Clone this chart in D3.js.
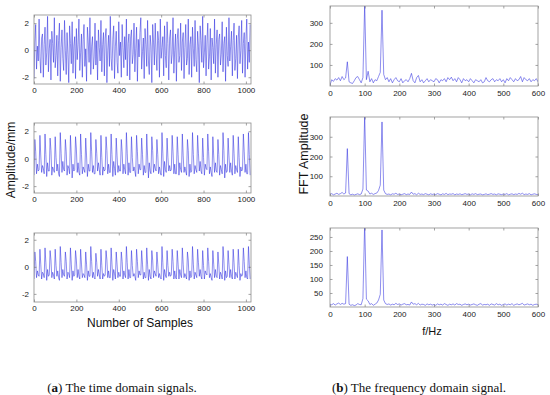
<!DOCTYPE html>
<html>
<head>
<meta charset="utf-8">
<script src="https://cdn.jsdelivr.net/npm/d3@7"></script>
<style>
  body { margin: 0; background: #fff; }
</style>
</head>
<body>
<script>
// time signals: one value every 4 samples
const sampleStep = 4;
const timeTicks = [0, 200, 400, 600, 800, 1000];
const ampTicks = [-2, 0, 2];

const sig1 = [
  -2.1, 0.6, 1.9, -1.4, 0.3, -0.8, 2.3, -0.5, -1.7, 0.9, 1.2, -2.0,
  0.4, 1.7, -1.1, -0.2, 2.5, -1.6, 0.1, 0.8, -2.2, 1.4, 0.5, -0.9,
  2.4, -1.3, -0.4, 1.1, -1.9, 0.7, 2.0, -2.3, 0.2, 1.5, -0.6, -1.5,
  2.2, 0.0, -1.8, 1.3, -0.3, -2.4, 1.8, 0.5, -1.0, 2.1, -1.7, 0.3,
  1.0, -2.1, 1.6, -0.7, 0.4, 2.3, -1.5, -0.2, 1.2, -2.0, 0.8, 1.9,
  -1.2, 0.1, -2.3, 1.7, 0.6, -0.9, 2.4, -1.8, 0.3, 1.0, -1.4, -0.5,
  2.0, -1.1, 0.7, -2.2, 1.5, 0.2, -0.8, 2.2, -1.6, 0.4, 1.3, -1.9,
  0.9, 1.6, -2.4, 0.0, 1.1, -1.2, 2.5, -0.6, -1.5, 0.8, 1.8, -2.1,
  0.3, 1.4, -0.9, -1.7, 2.1, -0.4, 0.6, -2.0, 1.9, 0.2, -1.3, 1.0,
  -0.7, 2.3, -1.9, 0.5, 1.2, -2.2, 0.9, 1.5, -1.0, -0.3, 2.0, -1.6,
  0.1, 1.7, -2.3, 0.8, -0.5, 1.3, 2.4, -1.4, -0.1, 0.9, -2.1, 1.6,
  0.4, -1.2, 2.2, -0.8, -1.8, 1.1, 0.3, -2.4, 1.9, 0.6, -1.1, 2.0,
  -0.2, -1.5, 1.4, 0.7, -2.0, 2.3, -0.6, 0.2, 1.0, -1.9, 1.8, -0.4,
  -1.3, 2.1, 0.5, -2.2, 0.9, 1.5, -1.0, -0.3, 2.4, -1.7, 0.0, 1.2,
  -2.3, 0.8, 1.6, -0.9, -0.4, 2.0, -1.5, 0.6, 1.3, -2.1, 0.2, 1.9,
  -1.1, -0.6, 2.3, -1.8, 0.4, 1.0, -2.0, 1.7, 0.1, -1.2, 2.2, -0.7,
  -1.6, 1.4, 0.3, -2.4, 1.8, 0.7, -0.9, 2.5, -1.3, -0.2, 1.1, -1.9,
  0.6, 2.0, -1.4, -0.5, 1.6, -2.2, 0.9, 0.2, -1.0, 2.3, -1.7, 0.4,
  1.5, -2.0, 0.8, 1.2, -1.1, -0.3, 2.1, -1.6, 0.5, 1.0, -2.3, 1.7,
  -0.4, -1.2, 2.4, -0.8, 0.3, 1.4, -1.9, 0.7, 2.0, -1.5, -0.6, 1.1,
  -2.1, 0.9, 1.8, -1.0, 0.0, 2.2, -1.7, 0.5, 1.3, -2.0, 0.8, 2.3,
  -1.4, 0.6, -0.9, 1.9
];

const sig2 = [
  -1.2, 1.4, 0.5, -1.1, -0.4, -0.9, -0.8, 1.7, 0.2, -1.0, -0.5, -0.7,
  -1.1, 1.8, 0.3, -1.3, -0.3, -0.9, -0.9, 1.5, 0.6, -1.2, -0.6, -0.8,
  -1.0, 1.6, 0.1, -0.9, -0.4, -1.1, -1.3, 1.9, 0.4, -1.0, -0.2, -0.8,
  -0.9, 1.4, 0.5, -1.2, -0.5, -0.7, -1.1, 1.7, 0.2, -1.4, -0.4, -0.9,
  -0.8, 1.6, 0.7, -1.0, -0.3, -1.0, -1.2, 1.8, 0.3, -1.1, -0.6, -0.8,
  -1.0, 1.5, 0.2, -1.3, -0.4, -0.9, -0.9, 1.9, 0.5, -1.0, -0.5, -1.1,
  -1.1, 1.4, 0.4, -0.9, -0.3, -0.8, -1.2, 1.7, 0.1, -1.2, -0.6, -0.9,
  -0.8, 1.6, 0.6, -1.1, -0.4, -1.0, -1.0, 1.8, 0.3, -1.3, -0.2, -0.7,
  -1.2, 1.5, 0.2, -1.0, -0.5, -0.9, -0.9, 1.4, 0.5, -1.1, -0.4, -0.8,
  -1.1, 1.9, 0.4, -1.2, -0.3, -1.0, -1.0, 1.6, 0.1, -0.9, -0.6, -0.9,
  -1.3, 1.7, 0.5, -1.1, -0.4, -0.8, -0.8, 1.5, 0.3, -1.2, -0.5, -1.0,
  -1.0, 1.8, 0.2, -1.4, -0.3, -0.9, -1.1, 1.6, 0.6, -1.0, -0.4, -0.7,
  -0.9, 1.4, 0.3, -1.1, -0.6, -1.0, -1.2, 1.9, 0.4, -1.3, -0.2, -0.8,
  -1.0, 1.5, 0.1, -0.9, -0.5, -0.9, -0.8, 1.7, 0.5, -1.1, -0.4, -1.1,
  -1.1, 1.6, 0.3, -1.2, -0.3, -0.8, -1.0, 1.8, 0.2, -1.0, -0.6, -0.9,
  -1.2, 1.4, 0.6, -1.3, -0.4, -1.0, -0.9, 1.9, 0.3, -1.1, -0.5, -0.8,
  -1.0, 1.7, 0.4, -0.9, -0.2, -0.9, -1.1, 1.5, 0.1, -1.2, -0.4, -0.7,
  -0.8, 1.8, 0.5, -1.1, -0.6, -1.0, -1.3, 1.6, 0.2, -1.0, -0.3, -0.9,
  -1.0, 1.4, 0.3, -1.2, -0.5, -0.8, -1.1, 1.9, 0.6, -1.4, -0.4, -1.0,
  -0.9, 1.5, 0.2, -1.0, -0.3, -0.9, -1.2, 1.7, 0.4, -1.1, -0.5, -0.8,
  -1.0, 1.6, 0.1, -1.3, -0.6, -0.9, -0.8, 1.8, 0.5, -1.0, -0.4, -1.1,
  -1.1, 1.9, 0.3, -1.2
];

const sig3 = [
  -0.9, 1.1, 0.4, -0.8, -0.3, -0.6, -0.7, 1.3, 0.2, -0.9, -0.4, -0.5,
  -0.8, 1.4, 0.3, -1.0, -0.2, -0.7, -0.6, 1.2, 0.5, -0.8, -0.4, -0.6,
  -0.9, 1.3, 0.1, -0.7, -0.3, -0.8, -1.0, 1.5, 0.3, -0.8, -0.2, -0.6,
  -0.7, 1.1, 0.4, -0.9, -0.4, -0.5, -0.8, 1.4, 0.2, -1.0, -0.3, -0.7,
  -0.6, 1.2, 0.5, -0.8, -0.2, -0.7, -0.9, 1.3, 0.2, -0.8, -0.5, -0.6,
  -0.8, 1.1, 0.2, -1.0, -0.3, -0.7, -0.7, 1.5, 0.4, -0.8, -0.4, -0.8,
  -0.9, 1.0, 0.3, -0.7, -0.2, -0.6, -0.9, 1.3, 0.1, -0.9, -0.5, -0.7,
  -0.6, 1.2, 0.5, -0.8, -0.3, -0.8, -0.8, 1.4, 0.2, -1.0, -0.2, -0.5,
  -0.9, 1.1, 0.2, -0.8, -0.4, -0.7, -0.7, 1.1, 0.4, -0.9, -0.3, -0.6,
  -0.8, 1.5, 0.3, -0.9, -0.2, -0.8, -0.8, 1.2, 0.1, -0.7, -0.5, -0.7,
  -1.0, 1.3, 0.4, -0.8, -0.3, -0.6, -0.6, 1.2, 0.2, -0.9, -0.4, -0.8,
  -0.8, 1.4, 0.2, -1.0, -0.2, -0.7, -0.9, 1.2, 0.5, -0.8, -0.3, -0.5,
  -0.7, 1.1, 0.2, -0.8, -0.5, -0.8, -0.9, 1.5, 0.3, -1.0, -0.2, -0.6,
  -0.8, 1.2, 0.1, -0.7, -0.4, -0.7, -0.6, 1.3, 0.4, -0.9, -0.3, -0.8,
  -0.9, 1.2, 0.2, -0.9, -0.2, -0.6, -0.8, 1.4, 0.2, -0.8, -0.5, -0.7,
  -0.9, 1.1, 0.5, -1.0, -0.3, -0.8, -0.7, 1.5, 0.2, -0.9, -0.4, -0.6,
  -0.8, 1.3, 0.3, -0.7, -0.2, -0.7, -0.9, 1.2, 0.1, -0.9, -0.3, -0.5,
  -0.6, 1.4, 0.4, -0.8, -0.5, -0.8, -1.0, 1.2, 0.2, -0.8, -0.2, -0.7,
  -0.8, 1.1, 0.2, -0.9, -0.4, -0.6, -0.9, 1.5, 0.5, -1.0, -0.3, -0.8,
  -0.7, 1.2, 0.2, -0.8, -0.2, -0.7, -0.9, 1.3, 0.3, -0.9, -0.4, -0.6,
  -0.8, 1.3, 0.1, -1.0, -0.5, -0.7, -0.6, 1.4, 0.4, -0.8, -0.3, -0.8,
  -0.9, 1.5, 0.2, -0.9
];

// spectra: one value every 5 Hz, 0..600 Hz
const freqStep = 5;
const freqTicks = [0, 100, 200, 300, 400, 500, 600];
const fftTicks1 = [100, 200, 300];
const fftTicks2 = [100, 200, 300];
const fftTicks3 = [50, 100, 150, 200, 250];

const fft1 = [
  5, 30, 22, 35, 28, 40, 25, 45, 30, 38,
  115, 20, 15, 12, 25, 40, 45, 30, 15, 40,
  390, 30, 70, 20, 35, 15, 30, 25, 45, 65,
  360, 55, 30, 40, 20, 35, 15, 30, 40, 25,
  20, 35, 15, 25, 30, 20, 35, 60, 25, 15,
  40, 50, 20, 30, 15, 25, 35, 20, 30, 25,
  20, 35, 30, 15, 30, 25, 35, 20, 40, 30,
  42, 25, 35, 20, 40, 30, 15, 35, 25, 30,
  20, 35, 25, 15, 30, 25, 20, 30, 15, 20,
  40, 25, 20, 30, 35, 20, 30, 25, 35, 20,
  30, 15, 35, 25, 40, 30, 20, 35, 25, 30,
  45, 20, 40, 30, 25, 35, 20, 30, 25, 35,
  20
];

const fft2 = [
  8, 12, 6, 10, 14, 8, 12, 18, 10, 15,
  240, 12, 6, 9, 5, 8, 11, 7, 10, 35,
  410, 30, 25, 10, 14, 8, 12, 15, 28, 55,
  375, 30, 12, 8, 10, 6, 11, 9, 14, 8,
  10, 6, 9, 12, 7, 10, 8, 20, 9, 12,
  6, 14, 8, 10, 7, 12, 9, 6, 11, 8,
  10, 7, 12, 9, 6, 11, 8, 13, 7, 10,
  9, 12, 6, 10, 8, 11, 7, 9, 12, 8,
  10, 6, 11, 8, 12, 7, 9, 10, 6, 8,
  11, 7, 9, 12, 8, 10, 6, 11, 9, 7,
  10, 8, 12, 6, 9, 11, 7, 10, 8, 13,
  9, 14, 7, 10, 8, 12, 6, 9, 11, 8,
  7
];

const fft3 = [
  10, 8, 12, 7, 11, 14, 9, 13, 10, 12,
  180, 10, 6, 8, 5, 7, 12, 9, 8, 30,
  300, 28, 22, 9, 12, 6, 10, 14, 25, 45,
  275, 25, 12, 9, 11, 7, 10, 8, 13, 9,
  11, 7, 10, 12, 8, 9, 7, 18, 10, 12,
  8, 13, 7, 10, 9, 6, 11, 8, 10, 7,
  9, 6, 11, 8, 10, 7, 12, 9, 6, 10,
  8, 11, 7, 12, 9, 10, 6, 9, 11, 8,
  10, 7, 9, 11, 8, 6, 10, 12, 7, 9,
  8, 10, 6, 11, 9, 7, 12, 8, 10, 6,
  9, 11, 7, 10, 8, 12, 6, 9, 11, 8,
  10, 13, 7, 9, 11, 8, 10, 6, 9, 10,
  8
];

const width = 550;
const height = 395;
const lineColor = "#3030e0";

const svg = d3.select("body")
    .append("svg")
    .attr("width", width)
    .attr("height", height)
    .style("font-family", "'Liberation Sans', Arial, sans-serif");

let clipCount = 0;

function panel(box, xDomain, yDomain, xTicks, yTicks, values, step, padX, padY) {
    const x = d3.scaleLinear().domain(xDomain).range([box.x0, box.x1]);
    const y = d3.scaleLinear().domain(yDomain).range([box.y1, box.y0]);
    const id = "clip" + (clipCount++);

    svg.append("clipPath").attr("id", id)
      .append("rect")
        .attr("x", box.x0).attr("y", box.y0)
        .attr("width", box.x1 - box.x0).attr("height", box.y1 - box.y0);

    svg.append("path")
        .datum(values)
        .attr("clip-path", `url(#${id})`)
        .attr("fill", "none")
        .attr("stroke", lineColor)
        .attr("stroke-width", 0.55)
        .attr("d", d3.line().x((d, i) => x(i * step)).y(d => y(d)));

    const fmt = d => String(d);
    const tk = -2.5;
    const axes = [
        [d3.axisBottom(x).tickValues(xTicks).tickFormat(fmt).tickPadding(padX), `translate(0,${box.y1})`],
        [d3.axisTop(x).tickValues(xTicks).tickFormat(""), `translate(0,${box.y0})`],
        [d3.axisLeft(y).tickValues(yTicks).tickFormat(fmt).tickPadding(padY), `translate(${box.x0},0)`],
        [d3.axisRight(y).tickValues(yTicks).tickFormat(""), `translate(${box.x1},0)`]
    ];
    axes.forEach(([ax, tr]) => {
        const g = svg.append("g")
            .attr("transform", tr)
            .call(ax.tickSizeInner(tk).tickSizeOuter(0));
        g.select(".domain").remove();
        g.selectAll(".tick line").attr("stroke", "#666").attr("stroke-width", 0.6);
        g.selectAll(".tick text")
            .attr("fill", "#222")
            .style("font-size", "8px")
            .style("font-family", "'Liberation Sans', Arial, sans-serif");
    });

    svg.append("rect")
        .attr("x", box.x0).attr("y", box.y0)
        .attr("width", box.x1 - box.x0).attr("height", box.y1 - box.y0)
        .attr("fill", "none")
        .attr("stroke", "#8c8c8c")
        .attr("stroke-width", 0.8);
}

// (a) time domain
panel({x0: 34, x1: 251, y0: 15, y1: 84}, [0, 1024], [-2.5, 2.6], timeTicks, ampTicks, sig1, sampleStep, 3, 5);
panel({x0: 34, x1: 251, y0: 123, y1: 193}, [0, 1024], [-2.5, 2.6], timeTicks, ampTicks, sig2, sampleStep, 3, 5);
panel({x0: 34, x1: 251, y0: 233, y1: 302}, [0, 1024], [-2.6, 2.5], timeTicks, ampTicks, sig3, sampleStep, 3, 5);

// (b) frequency domain
panel({x0: 330, x1: 538, y0: 6, y1: 86}, [0, 600], [0, 380], freqTicks, fftTicks1, fft1, freqStep, 4, 7);
panel({x0: 330, x1: 538, y0: 117, y1: 196}, [0, 600], [0, 400], freqTicks, fftTicks2, fft2, freqStep, 4, 7);
panel({x0: 330, x1: 538, y0: 228, y1: 307}, [0, 600], [0, 282], freqTicks, fftTicks3, fft3, freqStep, 4, 7);

// axis titles
svg.append("text")
    .attr("transform", "translate(11,160) rotate(-90)")
    .attr("text-anchor", "middle")
    .attr("dominant-baseline", "central")
    .style("font-size", "12px")
    .attr("fill", "#111")
    .text("Amplitude/mm");

svg.append("text")
    .attr("x", 140).attr("y", 327)
    .attr("text-anchor", "middle")
    .style("font-size", "12px")
    .attr("fill", "#111")
    .text("Number of Samples");

svg.append("text")
    .attr("transform", "translate(304,154) rotate(-90)")
    .attr("text-anchor", "middle")
    .attr("dominant-baseline", "central")
    .style("font-size", "12.5px")
    .attr("fill", "#111")
    .text("FFT Amplitude");

svg.append("text")
    .attr("x", 432).attr("y", 335)
    .attr("text-anchor", "middle")
    .style("font-size", "11px")
    .attr("fill", "#111")
    .text("f/Hz");

// captions
const captions = [
    {x: 122, tag: "a", rest: " The time domain signals."},
    {x: 419, tag: "b", rest: " The frequency domain signal."}
];
captions.forEach(c => {
    const t = svg.append("text")
        .attr("x", c.x).attr("y", 392)
        .attr("text-anchor", "middle")
        .style("font-family", "'Liberation Serif', 'Times New Roman', serif")
        .style("font-size", "13px")
        .attr("fill", "#111");
    t.append("tspan").text("(");
    t.append("tspan").style("font-weight", "bold").text(c.tag);
    t.append("tspan").text(")" + c.rest);
});
</script>
</body>
</html>
